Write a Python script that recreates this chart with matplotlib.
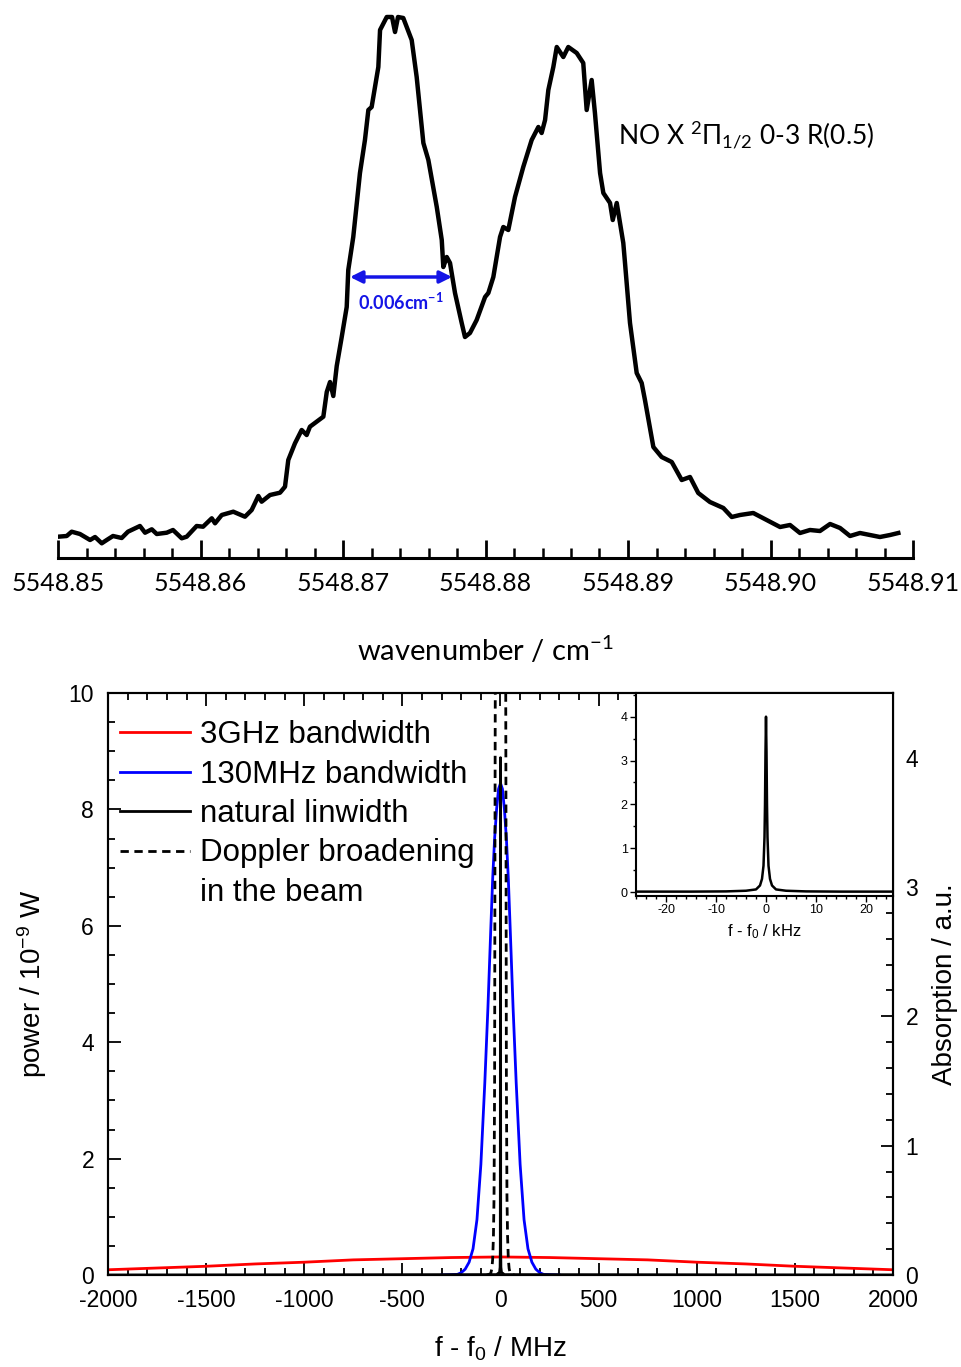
""" NO spectrum and line-width comparison """
import matplotlib
matplotlib.use('Agg')
import matplotlib.pyplot as plt
from matplotlib.lines import Line2D
from matplotlib.ticker import MultipleLocator, FormatStrFormatter

plt.rcParams['font.family'] = ['Liberation Sans', 'DejaVu Sans']
plt.rcParams['mathtext.default'] = 'regular'
plt.rcParams['axes.unicode_minus'] = False

# ---- top panel: measured spectrum (arbitrary intensity units) ----
wavenumber = [5548.85002, 5548.85061, 5548.85096, 5548.85154, 5548.85225, 5548.85260,
              5548.85307, 5548.85342, 5548.85386, 5548.85447, 5548.85491, 5548.85575,
              5548.85611, 5548.85658, 5548.85693, 5548.85763, 5548.85807, 5548.85868,
              5548.85903, 5548.85973, 5548.86018, 5548.86079, 5548.86102, 5548.86149,
              5548.86230, 5548.86312, 5548.86359, 5548.86406, 5548.86429, 5548.86488,
              5548.86558, 5548.86593, 5548.86616, 5548.86663, 5548.86710, 5548.86745,
              5548.86768, 5548.86815, 5548.86862, 5548.86886, 5548.86909, 5548.86932,
              5548.86956, 5548.86991, 5548.87026, 5548.87037, 5548.87072, 5548.87119,
              5548.87154, 5548.87178, 5548.87201, 5548.87248, 5548.87260, 5548.87307,
              5548.87344, 5548.87365, 5548.87386, 5548.87423, 5548.87482, 5548.87517,
              5548.87564, 5548.87599, 5548.87658, 5548.87693, 5548.87704, 5548.87728,
              5548.87751, 5548.87786, 5548.87833, 5548.87856, 5548.87891, 5548.87938,
              5548.87997, 5548.88020, 5548.88055, 5548.88102, 5548.88125, 5548.88160,
              5548.88207, 5548.88265, 5548.88324, 5548.88371, 5548.88394, 5548.88418,
              5548.88441, 5548.88476, 5548.88500, 5548.88546, 5548.88581, 5548.88640,
              5548.88686, 5548.88710, 5548.88745, 5548.88768, 5548.88804, 5548.88827,
              5548.88874, 5548.88893, 5548.88921, 5548.88967, 5548.88979, 5548.89014,
              5548.89061, 5548.89096, 5548.89119, 5548.89178, 5548.89236, 5548.89307,
              5548.89377, 5548.89435, 5548.89493, 5548.89575, 5548.89669, 5548.89728,
              5548.89786, 5548.89879, 5548.89973, 5548.90067, 5548.90137, 5548.90207,
              5548.90277, 5548.90347, 5548.90418, 5548.90488, 5548.90558, 5548.90628,
              5548.90698, 5548.90768, 5548.90839, 5548.90897]
signal = [21.3, 22, 26.3, 24, 18, 21, 14.7, 18, 22, 20, 26.3, 32,
          25.3, 28.7, 24, 25.3, 28, 19.7, 21.3, 32, 31.3, 39.7, 34.7, 43,
          46.3, 41.3, 48, 62, 56.3, 63, 65.3, 71.3, 98, 114.7, 128, 123,
          131.3, 136.3, 141.3, 166, 176, 162, 192, 221, 251, 288, 321, 385,
          418, 448, 451, 491, 528, 541,
          541, 526, 541, 540, 518, 481,
          415, 398, 351, 318, 291, 301,
          295, 265, 235, 221, 225, 238,
          261, 265, 281, 321, 331, 328,
          361, 391, 418, 431, 425, 438,
          468, 491, 511, 501, 511, 505,
          495, 448, 478, 445, 385, 365,
          355, 338, 355, 315, 295, 235,
          185, 175, 158, 111, 101, 96,
          78, 81, 65, 56, 50, 41,
          43, 45, 38, 31, 33, 25,
          28, 27, 34, 30, 22, 25,
          23, 21, 23, 25]
fwhm_left = 5548.87049
fwhm_right = 5548.87765
fwhm_level = 281

# ---- bottom panel: line shapes ----
red_f = [-2000, -1750, -1500, -1250, -1000, -750, -500, -250, 0,
         250, 500, 750, 1000, 1250, 1500, 1750, 2000]
red_p = [0.09, 0.12, 0.15, 0.19, 0.22, 0.26, 0.28, 0.30, 0.31,
         0.30, 0.28, 0.26, 0.22, 0.19, 0.15, 0.12, 0.09]
blue_f = [-300, -220, -200, -180, -160, -140, -120, -100, -80, -64, -50, -40, -30, -20, -10, 0,
          10, 20, 30, 40, 50, 64, 80, 100, 120, 140, 160, 180, 200, 220, 300]
blue_p = [0, 0.01, 0.04, 0.1, 0.22, 0.45, 0.95, 1.9, 3.3, 4.6, 5.9, 6.8, 7.5, 8.0, 8.35, 8.45,
          8.35, 8.0, 7.5, 6.8, 5.9, 4.6, 3.3, 1.9, 0.95, 0.45, 0.22, 0.1, 0.04, 0.01, 0]
natural_f = [-2000, -20, -5, -2, -1, 0, 1, 2, 5, 20, 2000]
natural_a = [0, 0.003, 0.02, 0.06, 0.2, 4.0, 0.2, 0.06, 0.02, 0.003, 0]
doppler_f = [-70, -50, -44, -40, -36, -33, -30, -28, -26, -20, 0,
             20, 26, 28, 30, 33, 36, 40, 44, 50, 70]
doppler_a = [0, 0.01, 0.05, 0.12, 0.3, 0.6, 1.5, 3.5, 5.0, 8.0, 12.0,
             8.0, 5.0, 3.5, 1.5, 0.6, 0.3, 0.12, 0.05, 0.01, 0]
# inset: natural line in kHz
inset_f = [-26, -15, -8, -4, -2, -1.2, -0.8, -0.5, -0.3, -0.2, -0.1, 0,
           0.1, 0.2, 0.3, 0.5, 0.8, 1.2, 2, 4, 8, 15, 25.4]
inset_a = [0.01, 0.01, 0.015, 0.03, 0.06, 0.15, 0.3, 0.6, 1.25, 2.0, 3.2, 4.0,
           3.2, 2.0, 1.25, 0.6, 0.3, 0.15, 0.06, 0.03, 0.015, 0.01, 0.01]

W, H = 962, 1367
fig = plt.figure(figsize=(W / 100, H / 100), dpi=100)

# top panel
ax1 = fig.add_axes([58 / W, 1 - 558 / H, 855 / W, 548 / H])
ax1.plot(wavenumber, signal, color='black', lw=3.2, solid_joinstyle='round')
ax1.set_xlim(5548.85, 5548.91)
ax1.set_ylim(0, 548)
for s in ['left', 'right', 'top']:
    ax1.spines[s].set_visible(False)
ax1.spines['bottom'].set_linewidth(2.2)
ax1.set_yticks([])
ax1.xaxis.set_major_locator(MultipleLocator(0.01))
ax1.xaxis.set_minor_locator(MultipleLocator(0.002))
ax1.xaxis.set_major_formatter(FormatStrFormatter('%.2f'))
ax1.tick_params(axis='x', which='major', direction='in', length=13, width=2, pad=10, labelsize=18)
ax1.tick_params(axis='x', which='minor', direction='in', length=7, width=1.8)
for lab in ax1.get_xticklabels():
    lab.set_family('Lato')
ax1.annotate('', xy=(fwhm_left, fwhm_level), xytext=(fwhm_right, fwhm_level),
             arrowprops=dict(arrowstyle='<|-|>', color='#1414e6', lw=2.5, mutation_scale=18,
                             shrinkA=0, shrinkB=0))
ax1.text((fwhm_left + fwhm_right) / 2, fwhm_level - 25, '0.006cm$^{-1}$', color='#1414e6',
         fontsize=13, fontweight='bold', family='Lato', ha='center', va='center')
ax1.text(5548.8893, 423, 'NO X $^{2}\\Pi_{1/2}$ 0-3 R(0.5)', fontsize=19, family='Lato',
         ha='left', va='center')
fig.text(485 / W, 1 - 650 / H, 'wavenumber / cm$^{-1}$', fontsize=21, family='Lato',
         ha='center', va='center')

# bottom panel
ax2 = fig.add_axes([108 / W, 1 - 1275 / H, 785 / W, 582 / H])
ax2r = ax2.twinx()
ax2.plot(red_f, red_p, color='#ff0000', lw=2.0)
ax2.plot(blue_f, blue_p, color='#0000ff', lw=2.0)
ax2r.plot(natural_f, natural_a, color='black', lw=2.0)
ax2r.plot(doppler_f, doppler_a, color='black', lw=2.0, ls=(0, (3, 2)))
ax2.set_xlim(-2000, 2000)
ax2.set_ylim(0, 10)
ax2r.set_ylim(0, 4.5)
ax2.xaxis.set_major_locator(MultipleLocator(500))
ax2.xaxis.set_minor_locator(MultipleLocator(100))
ax2.yaxis.set_major_locator(MultipleLocator(2))
ax2.yaxis.set_minor_locator(MultipleLocator(0.5))
ax2r.yaxis.set_major_locator(MultipleLocator(1))
ax2r.yaxis.set_minor_locator(MultipleLocator(0.2))
for a in (ax2, ax2r):
    for s in a.spines.values():
        s.set_linewidth(1.5)
ax2.tick_params(which='both', direction='in', top=True, right=False, width=1.3)
ax2.tick_params(which='major', length=9, labelsize=16.5)
ax2.tick_params(which='minor', length=5)
ax2.tick_params(axis='y', pad=10)
ax2.tick_params(axis='x', pad=10)
ax2r.tick_params(which='both', direction='in', width=1.3)
ax2r.tick_params(which='major', length=9, labelsize=16.5, pad=9)
ax2r.tick_params(which='minor', length=5)
ax2.set_xlabel('f - f$_0$ / MHz', fontsize=20, labelpad=16)
ax2.set_ylabel('power / 10$^{-9}$ W', fontsize=20, labelpad=14)
ax2r.set_ylabel('Absorption / a.u.', fontsize=20, labelpad=10)

# legend; the second line of the Doppler entry gets an empty handle
handles = [Line2D([], [], color='#ff0000', lw=2),
           Line2D([], [], color='#0000ff', lw=2),
           Line2D([], [], color='black', lw=2),
           Line2D([], [], color='black', lw=2, ls=(0, (3, 2))),
           Line2D([], [], color='none', lw=0)]
labels = ['3GHz bandwidth', '130MHz bandwidth', 'natural linwidth',
          'Doppler broadening', 'in the beam']
ax2.legend(handles, labels, loc='upper left', bbox_to_anchor=(0.015, 0.953),
           frameon=False, fontsize=22.5, handlelength=2.24, handletextpad=0.32,
           labelspacing=0.3, borderpad=0, borderaxespad=0)

# inset
axin = fig.add_axes([636 / W, 1 - 896 / H, 257 / W, 203 / H])
axin.plot(inset_f, inset_a, color='black', lw=1.8)
axin.set_xlim(-26, 25.4)
axin.set_ylim(-0.09, 4.54)
axin.xaxis.set_major_locator(MultipleLocator(10))
axin.xaxis.set_minor_locator(MultipleLocator(2))
axin.yaxis.set_major_locator(MultipleLocator(1))
axin.yaxis.set_minor_locator(MultipleLocator(0.5))
for s in axin.spines.values():
    s.set_linewidth(1.5)
axin.tick_params(which='both', direction='out', width=1)
axin.tick_params(which='major', length=4, labelsize=9, pad=2)
axin.tick_params(which='minor', length=2)
axin.set_xlabel('f - f$_0$ / kHz', fontsize=12, labelpad=4)

fig.savefig('out.png', dpi=100)
